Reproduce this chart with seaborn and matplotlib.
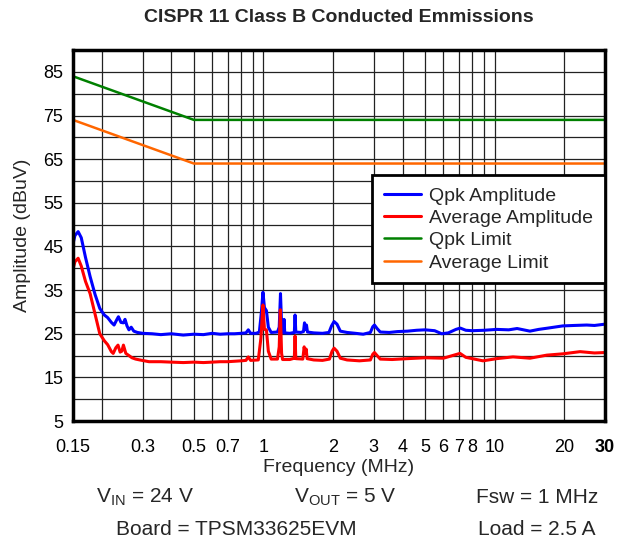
import numpy as np
import pandas as pd
import matplotlib
matplotlib.use("Agg")
import matplotlib.pyplot as plt
import seaborn as sns

# Conducted emissions scan
qpk_freq = [0.150, 0.153, 0.158, 0.163, 0.170, 0.178, 0.187, 0.196, 0.205, 0.212,
            0.220, 0.226, 0.232, 0.236, 0.242, 0.248, 0.252, 0.257, 0.262, 0.268,
            0.275, 0.285, 0.30, 0.33, 0.36, 0.40, 0.45, 0.50, 0.55, 0.60,
            0.65, 0.70, 0.75, 0.80, 0.84, 0.86, 0.88, 0.93, 0.96, 0.98,
            0.995, 1.01, 1.03, 1.05, 1.08, 1.15, 1.17, 1.185, 1.20, 1.21,
            1.22, 1.228, 1.236, 1.30, 1.36, 1.37, 1.38, 1.45, 1.49, 1.505,
            1.52, 1.535, 1.55, 1.65, 1.80, 1.92, 1.97, 2.02, 2.08, 2.15,
            2.3, 2.5, 2.7, 2.9, 2.97, 3.02, 3.1, 3.2, 3.5, 3.8,
            4.2, 4.6, 5.0, 5.5, 5.9, 6.3, 6.8, 7.1, 7.5, 8.0,
            9.0, 10.2, 11.5, 12.5, 14.2, 15.5, 17.0, 19.7, 22.0, 25.0,
            27.0, 30.0]
qpk_amp = [45.5, 47.5, 48.4, 47.0, 42.5, 38.1, 34.0, 30.8, 29.3, 28.7,
           27.6, 27.0, 28.2, 28.9, 27.6, 27.5, 28.3, 26.8, 25.9, 26.5,
           25.6, 25.3, 25.1, 25.0, 24.8, 25.0, 24.7, 24.9, 24.8, 25.1,
           24.9, 25.0, 25.0, 25.1, 25.2, 25.9, 25.1, 25.1, 25.4, 30.0,
           34.5, 31.0, 30.3, 26.5, 25.3, 25.4, 26.5, 34.2, 26.0, 25.3,
           25.2, 28.3, 25.2, 25.1, 25.3, 29.3, 25.4, 25.3, 25.5, 27.5,
           26.0, 27.0, 25.4, 25.2, 25.1, 25.3, 26.8, 27.8, 27.2, 25.6,
           25.3, 25.1, 24.9, 25.3, 26.6, 27.0, 26.2, 25.4, 25.3, 25.5,
           25.6, 25.8, 25.9, 25.7, 25.0, 25.2, 26.0, 26.3, 25.8, 25.7,
           25.8, 26.0, 25.9, 26.2, 25.6, 26.0, 26.3, 26.8, 26.9, 27.0,
           26.9, 27.2]

avg_freq = [0.150, 0.153, 0.158, 0.163, 0.170, 0.178, 0.187, 0.196, 0.205, 0.212,
            0.220, 0.224, 0.230, 0.235, 0.240, 0.244, 0.248, 0.254, 0.262, 0.270,
            0.28, 0.292, 0.32, 0.36, 0.40, 0.45, 0.50, 0.55, 0.60, 0.65,
            0.70, 0.75, 0.80, 0.84, 0.86, 0.88, 0.95, 0.975, 0.995, 1.01,
            1.03, 1.05, 1.08, 1.15, 1.17, 1.183, 1.198, 1.21, 1.30, 1.36,
            1.37, 1.38, 1.48, 1.50, 1.515, 1.53, 1.545, 1.65, 1.8, 1.93,
            1.98, 2.02, 2.08, 2.15, 2.3, 2.6, 2.9, 2.97, 3.02, 3.1,
            3.2, 3.6, 4.2, 5.0, 6.0, 7.08, 7.5, 8.9, 10.2, 12.0,
            14.2, 16.8, 19.7, 23.4, 27.0, 30.0]
avg_amp = [39.8, 41.5, 42.3, 40.5, 37.0, 34.2, 29.5, 25.0, 23.4, 22.5,
           20.9, 20.5, 21.8, 22.4, 20.8, 21.0, 22.4, 20.5, 20.0, 19.5,
           19.2, 19.0, 18.6, 18.6, 18.5, 18.4, 18.5, 18.4, 18.5, 18.6,
           18.6, 18.7, 18.8, 18.9, 19.7, 18.9, 19.0, 24.0, 31.6, 26.0,
           25.9, 21.0, 19.2, 19.2, 22.0, 30.5, 20.5, 19.1, 19.1, 19.4,
           24.5, 19.3, 19.2, 22.0, 20.5, 21.5, 19.3, 19.0, 18.9, 19.2,
           21.0, 21.7, 21.0, 19.4, 19.0, 18.8, 19.0, 20.3, 20.7, 20.0,
           19.2, 19.1, 19.3, 19.5, 19.4, 20.5, 19.6, 18.8, 19.3, 19.7,
           19.4, 20.1, 20.4, 20.9, 20.6, 20.7]

limit_freq = [0.15, 0.5, 30.0]
qpk_limit = [84, 74, 74]
avg_limit = [74, 64, 64]

x_ticks = [0.15, 0.3, 0.5, 0.7, 1, 2, 3, 4, 5, 6, 7, 8, 10, 20, 30]
x_ticklabels = ["0.15", "0.3", "0.5", "0.7", "1", "2", "3", "4", "5", "6", "7", "8", "10", "20", "30"]
x_grid = [0.2, 0.3, 0.4, 0.5, 0.6, 0.7, 0.8, 0.9, 1, 2, 3, 4, 5, 6, 7, 8, 9, 10, 20]
y_ticks = [5, 15, 25, 35, 45, 55, 65, 75, 85]

sns.set_theme(style="white")
plt.rcParams["font.family"] = ["Liberation Sans", "DejaVu Sans"]
plt.rcParams["mathtext.fontset"] = "custom"
plt.rcParams["mathtext.rm"] = "Liberation Sans"
plt.rcParams["mathtext.it"] = "Liberation Sans:italic"

fig = plt.figure(figsize=(6.18, 5.44), dpi=100)
ax = fig.add_axes([0.118, 0.226, 0.861, 0.682])

# grid first so the curves sit on top
for g in x_grid:
    ax.axvline(g, color="#222222", lw=0.9, zorder=1)
for g in range(10, 90, 5):
    ax.axhline(g, color="#222222", lw=0.9, zorder=1)

sns.lineplot(x=qpk_freq, y=qpk_amp, color="#0000ff", lw=2.2, label="Qpk Amplitude", ax=ax, zorder=3)
sns.lineplot(x=avg_freq, y=avg_amp, color="#ff0000", lw=2.2, label="Average Amplitude", ax=ax, zorder=3)
sns.lineplot(x=limit_freq, y=qpk_limit, color="#008000", lw=1.8, label="Qpk Limit", ax=ax, zorder=3)
sns.lineplot(x=limit_freq, y=avg_limit, color="#ff6600", lw=1.8, label="Average Limit", ax=ax, zorder=3)

ax.set_xscale("log")
ax.set_xlim(0.15, 30)
ax.set_ylim(5, 90)
ax.set_xticks(x_ticks)
ax.set_xticklabels(x_ticklabels)
ax.xaxis.set_minor_locator(matplotlib.ticker.NullLocator())
ax.set_yticks(y_ticks)
ax.tick_params(axis="both", length=0, labelsize=13, colors="black")
ax.tick_params(axis="y", pad=7)
ax.tick_params(axis="x", pad=13)
ax.get_xticklabels()[-1].set_fontweight("bold")

for s in ax.spines.values():
    s.set_visible(True)
    s.set_color("black")
    s.set_linewidth(2.5)
    s.set_zorder(5)

ax.set_xlabel("Frequency (MHz)", fontsize=14, labelpad=2)
ax.set_ylabel("Amplitude (dBuV)", fontsize=14, labelpad=9)
ax.set_title("CISPR 11 Class B Conducted Emmissions", fontsize=14, fontweight="bold", pad=20)

leg = ax.legend(loc="upper right", bbox_to_anchor=(1.0, 0.662), borderaxespad=0, fontsize=14,
                frameon=True, fancybox=False, framealpha=1, edgecolor="black",
                handlelength=1.9, labelspacing=0.24, borderpad=0.6, handletextpad=0.45)
leg.get_frame().set_linewidth(2.0)
leg.set_zorder(6)

fig.text(0.235, 0.086, r"V$_{\mathrm{IN}}$ = 24 V", ha="center", va="center", fontsize=15)
fig.text(0.558, 0.086, r"V$_{\mathrm{OUT}}$ = 5 V", ha="center", va="center", fontsize=15)
fig.text(0.869, 0.086, "Fsw = 1 MHz", ha="center", va="center", fontsize=15)
fig.text(0.383, 0.026, "Board = TPSM33625EVM", ha="center", va="center", fontsize=15)
fig.text(0.869, 0.026, "Load = 2.5 A", ha="center", va="center", fontsize=15)

fig.savefig("out.png", dpi=100)
